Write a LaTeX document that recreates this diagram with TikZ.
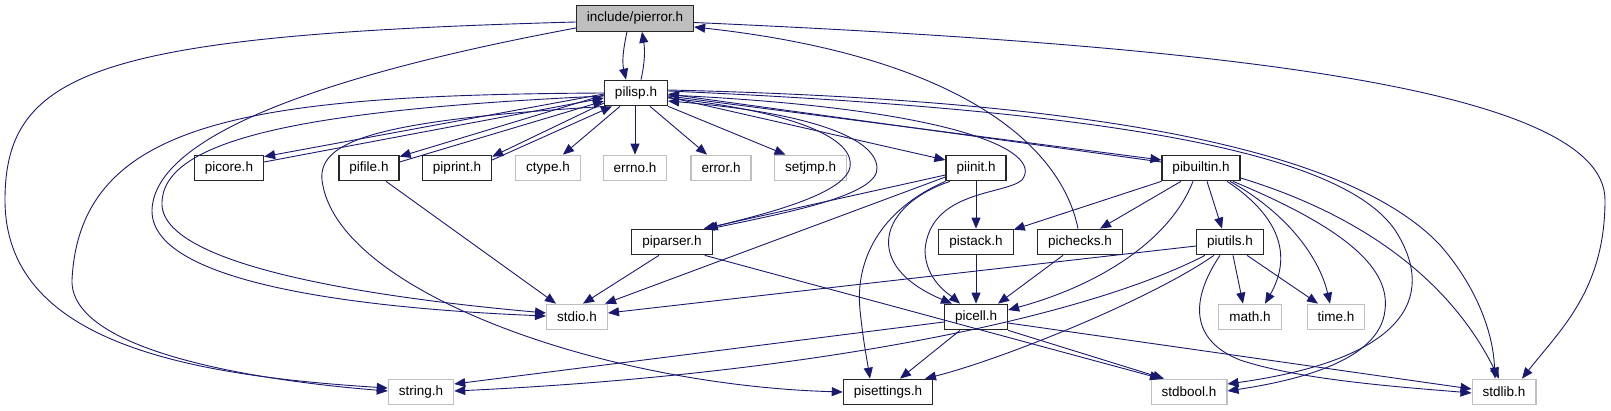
\documentclass[tikz,border=0pt]{standalone}
\usepackage{fontspec}
\setmainfont{Liberation Sans}
\usepackage{tikz}
\usetikzlibrary{arrows.meta}
\definecolor{edgeblue}{HTML}{191970}
\definecolor{sysgray}{HTML}{BFBFBF}
\definecolor{rootgray}{HTML}{BFBFBF}

\begin{document}
\begin{tikzpicture}[
  x=1pt, y=-1pt,
  file/.style={draw=black!85, line width=1.2pt, minimum height=25.5pt, inner xsep=10.5pt, inner ysep=0pt, font=\fontsize{13.5}{15}\selectfont},
  sysfile/.style={file, draw=sysgray},
  rootfile/.style={file, fill=rootgray},
  inc/.style={-{Triangle[length=11pt,width=9pt]}, color=edgeblue, line width=0.9pt},
]
  \useasboundingbox (0,0) rectangle (1611,411);

  \node[rootfile] (pierror) at (635,18.5) {include/pierror.h};
  \node[file] (pilisp) at (636,93) {pilisp.h};
  \node[file] (picore) at (229,168) {picore.h};
  \node[file] (pifile) at (369,168) {pifile.h};
  \node[file] (piprint) at (457,168) {piprint.h};
  \node[sysfile] (ctype) at (548,168) {ctype.h};
  \node[sysfile] (errno) at (635,168) {errno.h};
  \node[sysfile] (error) at (721,168) {error.h};
  \node[sysfile] (setjmp) at (810.5,168) {setjmp.h};
  \node[file] (piinit) at (976,168) {piinit.h};
  \node[file] (pibuiltin) at (1201,168) {pibuiltin.h};
  \node[file] (piparser) at (672,242) {piparser.h};
  \node[file] (pistack) at (976,242) {pistack.h};
  \node[file] (pichecks) at (1080,242) {pichecks.h};
  \node[file] (piutils) at (1230,242) {piutils.h};
  \node[sysfile] (stdio) at (577,317) {stdio.h};
  \node[file] (picell) at (976,317) {picell.h};
  \node[sysfile] (math) at (1250,317) {math.h};
  \node[sysfile] (time) at (1336,317) {time.h};
  \node[sysfile] (string) at (421,392) {string.h};
  \node[file] (pisettings) at (888,392) {pisettings.h};
  \node[sysfile] (stdbool) at (1189,392) {stdbool.h};
  \node[sysfile] (stdlib) at (1504,392) {stdlib.h};

  \draw[inc] ([xshift=-8pt]pierror.south) .. controls (623,50) and (622,62) .. ([xshift=-10pt]pilisp.north);
  \draw[inc] ([xshift=5pt]pilisp.north) .. controls (645,62) and (645,50) .. ([xshift=7pt]pierror.south);
  \draw[inc] ([yshift=-3.5pt]pierror.west) .. controls (100,35) and (5,70) .. (5,200) .. controls (5,340) and (180,375) .. ([yshift=4pt]string.west);
  \draw[inc] ([yshift=-9.5pt]pierror.west) .. controls (350,70) and (155,130) .. (152,210) .. controls (150,290) and (400,310) .. ([yshift=1pt]stdio.west);
  \draw[inc] ([yshift=-4pt]pierror.east) .. controls (1200,45) and (1605,85) .. (1605,200) .. controls (1605,290) and (1560,330) .. ([xshift=18pt]stdlib.north);
  \draw[inc] ([xshift=-2pt]pichecks.north) .. controls (1060,140) and (950,55) .. ([yshift=-8.5pt]pierror.east);

  \draw[inc] ([yshift=-1pt]pilisp.west) -- ([yshift=-2pt]picore.north east);
  \draw[inc] ([yshift=6pt]picore.east) -- ([yshift=-5pt]pilisp.west);
  \draw[inc] ([yshift=-2pt]pilisp.west) -- ([yshift=-2pt]pifile.north east);
  \draw[inc] ([yshift=6pt]pifile.east) -- ([yshift=-8pt]pilisp.west);
  \draw[inc] ([yshift=-10pt]pilisp.west) -- ([yshift=-2pt]piprint.north east);
  \draw[inc] ([yshift=8pt]piprint.east) -- ([xshift=-24pt]pilisp.south);
  \draw[inc] ([xshift=-16pt]pilisp.south) -- ([xshift=15pt]ctype.north);
  \draw[inc] ([xshift=-1pt]pilisp.south) -- (errno.north);
  \draw[inc] ([xshift=14pt]pilisp.south) -- ([xshift=-14pt]error.north);
  \draw[inc] (pilisp.south east) -- ([xshift=-25pt]setjmp.north);
  \draw[inc] ([yshift=-4pt]pilisp.east) -- ([yshift=8pt]piinit.west);
  \draw[inc] ([yshift=-3pt]pilisp.east) -- ([yshift=8pt]pibuiltin.west);
  \draw[inc] ([yshift=6pt]pibuiltin.west) -- ([yshift=-1pt]pilisp.east);
  \draw[inc] ([yshift=-5pt]pilisp.east) .. controls (800,112) and (855,140) .. (850,167) .. controls (845,195) and (760,215) .. ([xshift=-6pt]piparser.north east);
  \draw[inc] ([xshift=-2pt]piparser.north east) .. controls (790,212) and (880,195) .. (877,167) .. controls (874,135) and (800,112) .. ([yshift=-8pt]pilisp.east);
  \draw[inc] ([yshift=-3pt]pilisp.west) .. controls (300,110) and (160,140) .. (162,205) .. controls (165,270) and (400,300) .. ([yshift=4pt]stdio.west);
  \draw[inc] (pilisp.west) .. controls (250,95) and (80,120) .. (72,280) .. controls (70,350) and (250,380) .. ([yshift=1pt]string.west);
  \draw[inc] ([xshift=-30pt]pilisp.south) .. controls (380,120) and (318,140) .. (322,180) .. controls (335,290) and (600,385) .. (pisettings.west);
  \draw[inc] ([yshift=-2pt]pilisp.east) .. controls (950,108) and (1045,150) .. (1022,180) .. controls (1005,195) and (930,190) .. (925,250) .. controls (925,280) and (950,295) .. ([xshift=-16pt]picell.north);
  \draw[inc] ([yshift=2pt]pilisp.east) .. controls (1100,110) and (1340,150) .. (1395,230) .. controls (1440,300) and (1400,360) .. ([yshift=8pt]stdbool.east);
  \draw[inc] ([yshift=3pt]pilisp.east) .. controls (1100,100) and (1350,150) .. (1440,245) .. controls (1475,285) and (1493,330) .. ([xshift=-9pt]stdlib.north);

  \draw[inc] ([yshift=-7pt]piinit.west) -- ([xshift=-9pt]piparser.north east);
  \draw[inc] ([yshift=-9pt]piinit.west) -- ([xshift=-3pt]stdio.north east);
  \draw[inc] (piinit.south) -- (pistack.north);
  \draw[inc] ([xshift=-26pt]piinit.south) .. controls (880,205) and (860,265) .. ([xshift=-24pt]picell.north);
  \draw[inc] (piinit.south west) .. controls (880,210) and (855,260) .. (860,310) .. controls (863,340) and (867,360) .. ([xshift=-18pt]pisettings.north);

  \draw[inc] (pibuiltin.south west) -- ([yshift=-1pt]pistack.north east);
  \draw[inc] ([xshift=-20pt]pibuiltin.south) -- ([xshift=20pt]pichecks.north);
  \draw[inc] ([xshift=-8pt]pibuiltin.south) .. controls (1170,240) and (1100,285) .. ([yshift=7pt]picell.east);
  \draw[inc] ([xshift=6pt]pibuiltin.south) -- ([xshift=-8pt]piutils.north);
  \draw[inc] ([xshift=26pt]pibuiltin.south) .. controls (1285,220) and (1290,260) .. ([xshift=15pt]math.north);
  \draw[inc] ([xshift=29pt]pibuiltin.south) .. controls (1290,215) and (1320,260) .. ([xshift=-6pt]time.north);
  \draw[inc] ([xshift=32pt]pibuiltin.south) .. controls (1350,230) and (1390,270) .. (1385,310) .. controls (1380,360) and (1300,380) .. ([yshift=1pt]stdbool.east);
  \draw[inc] ([yshift=-10pt]pibuiltin.east) .. controls (1330,205) and (1440,260) .. ([xshift=-5pt]stdlib.north);

  \draw[inc] (pistack.south) -- (picell.north);
  \draw[inc] ([xshift=-17pt]pichecks.south) -- ([xshift=22pt]picell.north);
  \draw[inc] ([xshift=-13pt]piparser.south) -- ([xshift=6pt]stdio.north);
  \draw[inc] ([xshift=-8pt]piparser.south east) -- ([xshift=-28pt]stdbool.north);
  \draw[inc] ([xshift=17pt]pifile.south) -- ([xshift=-21pt]stdio.north);

  \draw[inc] ([xshift=3pt]piutils.south) -- ([xshift=-7pt]math.north);
  \draw[inc] ([xshift=17pt]piutils.south) -- ([xshift=-18pt]time.north);
  \draw[inc] ([xshift=-10pt]piutils.south) .. controls (1190,300) and (1190,340) .. (1240,360) .. controls (1300,380) and (1400,387) .. ([yshift=-1pt]stdlib.west);
  \draw[inc] ([yshift=-4pt]piutils.west) -- ([yshift=4pt]stdio.east);
  \draw[inc] ([xshift=-25pt]piutils.south) .. controls (1080,320) and (800,375) .. ([yshift=1pt]string.east);
  \draw[inc] ([xshift=-16pt]piutils.south) .. controls (1150,300) and (1000,360) .. ([xshift=37pt]pisettings.north);

  \draw[inc] ([yshift=-6pt]picell.east) -- ([yshift=3pt]stdlib.west);
  \draw[inc] (picell.south east) -- ([xshift=-25pt]stdbool.north);
  \draw[inc] ([yshift=-5pt]picell.west) -- ([yshift=8pt]string.east);
  \draw[inc] ([xshift=-16pt]picell.south) -- ([xshift=12pt]pisettings.north);
\end{tikzpicture}
\end{document}
